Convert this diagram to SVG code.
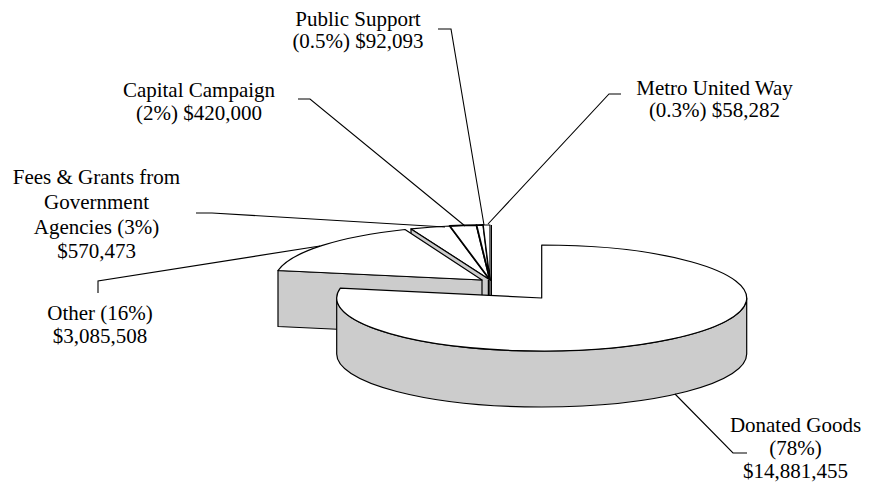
<svg xmlns="http://www.w3.org/2000/svg" width="869" height="485" viewBox="0 0 869 485">
<style>
.lbl{font-family:"Liberation Serif","Times New Roman",serif;font-size:21px;fill:#000;text-anchor:middle}
.top{fill:#fff;stroke:#000;stroke-width:1.2;stroke-linejoin:round}
.side{fill:#cccccc;stroke:#000;stroke-width:1.2;stroke-linejoin:round}
.lead{fill:none;stroke:#000;stroke-width:1.1}
</style>
<rect width="869" height="485" fill="#fff"/>
<g id="slice-small">
  <path class="top" d="M490,280 L411,228.9 A215 55 0 0 1 449.7,226 Z"/>
  <path class="top" d="M490,280 L449.7,226 A215 55 0 0 1 476.5,225.1 Z" style="stroke-width:1.8"/>
  <path class="top" d="M490,280 L476.5,225.1 A215 55 0 0 1 483.2,225 Z" style="stroke-width:1.8"/>
  <path class="top" d="M490,280 L483.2,225 A215 55 0 0 1 490,225 Z"/>
  <polygon class="side" points="411,228.9 490,280 490,336 411,284.9"/>
  <line x1="488.5" y1="280" x2="488.5" y2="297" stroke="#000" stroke-width="1.5"/>
  <line x1="491.5" y1="225" x2="491.5" y2="297" stroke="#000" stroke-width="1"/>
</g>
<g id="slice-other">
  <polygon class="side" points="278,270.5 482,280 482,336 278,326.5"/>
  <path class="top" d="M482,280 L278,270.5 A207 55 0 0 1 405,229.5 Z"/>
</g>
<g id="slice-donated">
  <path class="side" d="M336.7,298 A205 53 0 0 0 746.7,298 L746.7,354 A205 53 0 0 1 336.7,354 Z"/>
  <path class="top" d="M541.7,245 A205 53 0 1 1 340.3,288.1 L541.7,298 Z"/>
</g>
<g id="connectors">
  <polyline class="lead" points="438,29 451,29 484,225"/>
  <polyline class="lead" points="621,94 609,94 488,224"/>
  <polyline class="lead" points="298,99 310,99 465,226"/>
  <polyline class="lead" points="196,213 212,213 445,227"/>
  <polyline class="lead" points="98,293 98,281 320,246"/>
  <polyline class="lead" points="747,453 733,453 675,394"/>
</g>
<g id="label-public">
  <text class="lbl" x="358" y="25.5">Public Support</text>
  <text class="lbl" x="358" y="48">(0.5%) $92,093</text>
</g>
<g id="label-metro">
  <text class="lbl" x="714.5" y="95">Metro United Way</text>
  <text class="lbl" x="714.5" y="117">(0.3%) $58,282</text>
</g>
<g id="label-capital">
  <text class="lbl" x="199" y="97">Capital Campaign</text>
  <text class="lbl" x="199" y="119.5">(2%) $420,000</text>
</g>
<g id="label-fees">
  <text class="lbl" x="96.5" y="184">Fees &amp; Grants from</text>
  <text class="lbl" x="96.5" y="208.5">Government</text>
  <text class="lbl" x="96.5" y="233.5">Agencies (3%)</text>
  <text class="lbl" x="96.5" y="258">$570,473</text>
</g>
<g id="label-other">
  <text class="lbl" x="100" y="320">Other (16%)</text>
  <text class="lbl" x="100" y="343">$3,085,508</text>
</g>
<g id="label-donated">
  <text class="lbl" x="795.5" y="432">Donated Goods</text>
  <text class="lbl" x="795.5" y="455">(78%)</text>
  <text class="lbl" x="795.5" y="477.5">$14,881,455</text>
</g>
</svg>
